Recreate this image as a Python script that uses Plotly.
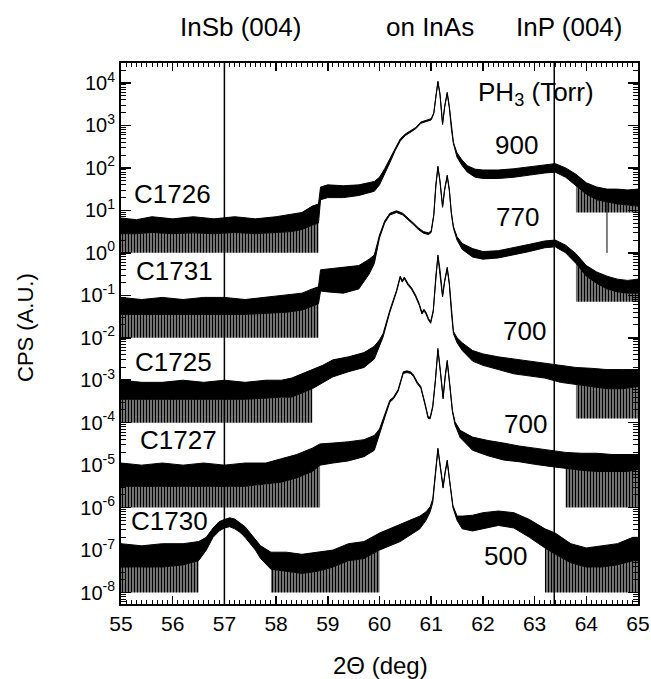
import plotly.graph_objects as go

# ---------------- data (log10 of CPS) ----------------
# each curve: knot positions (2theta), upper and lower envelope of the noisy trace
xA = [55.0, 55.3, 55.6, 56.0, 56.4, 56.8, 57.2, 57.6, 58.0, 58.3, 58.5, 58.7, 58.82, 58.86,
      59.0, 59.3, 59.6, 59.9, 60.0, 60.1, 60.2, 60.3, 60.4, 60.5, 60.6, 60.7, 60.8, 60.9,
      61.0, 61.05, 61.09, 61.13, 61.17, 61.22, 61.26, 61.31, 61.35, 61.39, 61.43, 61.5,
      61.6, 61.7, 61.85, 62.0, 62.3, 62.6, 62.9, 63.2, 63.4, 63.6, 63.8, 64.0, 64.2, 64.4,
      64.6, 64.8, 65.0]
hiA = [0.82, 0.78, 0.85, 0.80, 0.85, 0.80, 0.85, 0.80, 0.85, 0.90, 0.95, 1.10, 1.15, 1.55,
       1.60, 1.58, 1.60, 1.68, 1.78, 1.98, 2.22, 2.47, 2.68, 2.80, 2.87, 2.95, 3.08, 3.12,
       3.16, 3.30, 3.70, 4.04, 3.75, 3.05, 3.45, 3.78, 3.45, 2.95, 2.60, 2.35,
       2.18, 2.05, 1.97, 1.95, 1.95, 1.98, 2.03, 2.08, 2.10, 2.00, 1.85, 1.65, 1.55, 1.50,
       1.50, 1.48, 1.50]
loA = [0.45, 0.45, 0.48, 0.45, 0.47, 0.45, 0.48, 0.45, 0.48, 0.50, 0.55, 0.65, 0.70, 1.25,
       1.30, 1.30, 1.35, 1.45, 1.60, 1.85, 2.12, 2.40, 2.63, 2.76, 2.83, 2.92, 3.05, 3.09,
       3.13, 3.27, 3.67, 4.01, 3.72, 3.02, 3.42, 3.75, 3.42, 2.92, 2.57, 2.25,
       2.05, 1.90, 1.78, 1.75, 1.75, 1.78, 1.83, 1.88, 1.90, 1.78, 1.58, 1.38, 1.25, 1.20,
       1.15, 1.12, 1.10]

xB = [55.0, 55.4, 55.8, 56.2, 56.6, 57.0, 57.4, 57.8, 58.2, 58.5, 58.7, 58.82, 58.86, 59.0,
      59.3, 59.6, 59.8, 59.9, 60.0, 60.1, 60.2, 60.33, 60.45, 60.55, 60.65, 60.75, 60.85,
      60.95, 61.0, 61.05, 61.09, 61.13, 61.17, 61.22, 61.26, 61.31, 61.35, 61.39, 61.43,
      61.5, 61.6, 61.8, 62.0, 62.3, 62.6, 62.9, 63.2, 63.4, 63.6, 63.8, 64.0, 64.2, 64.4,
      64.6, 64.8, 65.0]
hiB = [-1.05, -1.10, -1.05, -1.10, -1.05, -1.05, -1.10, -1.05, -1.00, -0.95, -0.85, -0.80,
       -0.40, -0.38, -0.35, -0.30, -0.15, -0.05, 0.42, 0.75, 0.93, 0.99, 0.93, 0.83, 0.71,
       0.59, 0.50, 0.47, 0.52, 0.90, 1.60, 2.04, 1.70, 1.10, 1.50, 1.83, 1.50, 0.95, 0.62,
       0.38, 0.22, 0.10, 0.03, 0.05, 0.12, 0.20, 0.28, 0.30, 0.18, -0.02, -0.30, -0.45,
       -0.55, -0.62, -0.65, -0.62]
loB = [-1.45, -1.45, -1.45, -1.45, -1.45, -1.45, -1.45, -1.42, -1.40, -1.35, -1.25, -1.20,
       -0.90, -0.92, -0.95, -0.85, -0.50, -0.25, 0.35, 0.70, 0.89, 0.95, 0.89, 0.79, 0.67,
       0.55, 0.46, 0.43, 0.48, 0.87, 1.57, 2.01, 1.67, 1.07, 1.47, 1.80, 1.47, 0.92, 0.58,
       0.30, 0.08, -0.10, -0.15, -0.12, -0.05, 0.03, 0.12, 0.14, 0.00, -0.25, -0.55, -0.72,
       -0.85, -0.92, -0.95, -0.95]

xC = [55.0, 55.4, 55.8, 56.2, 56.6, 57.0, 57.4, 57.8, 58.1, 58.3, 58.5, 58.7, 58.9, 59.1,
      59.4, 59.7, 59.9, 60.0, 60.07, 60.2, 60.33, 60.4, 60.44, 60.48, 60.55, 60.62, 60.7,
      60.77, 60.82, 60.86, 60.9, 60.95, 60.99, 61.04, 61.09, 61.13, 61.17, 61.22, 61.26,
      61.31, 61.35, 61.39, 61.43, 61.5, 61.6, 61.8, 62.0, 62.3, 62.6, 62.9, 63.2, 63.5,
      63.8, 64.1, 64.4, 64.7, 65.0]
hiC = [-3.00, -3.05, -3.05, -3.00, -3.05, -3.00, -3.05, -3.00, -3.00, -2.95, -2.85, -2.75,
       -2.65, -2.52, -2.45, -2.35, -2.20, -2.05, -1.90, -1.35, -0.88, -0.55, -0.65, -0.57,
       -0.72, -0.82, -1.00, -1.20, -1.40, -1.33, -1.40, -1.55, -1.62, -1.35, -0.50, -0.05,
       -0.40, -1.00, -0.65, -0.34, -0.70, -1.35, -1.85, -2.00, -2.12, -2.30, -2.38, -2.45,
       -2.50, -2.55, -2.60, -2.65, -2.70, -2.72, -2.75, -2.75, -2.75]
loC = [-3.45, -3.45, -3.45, -3.45, -3.45, -3.45, -3.45, -3.42, -3.40, -3.40, -3.30, -3.20,
       -3.05, -2.92, -2.80, -2.70, -2.50, -2.20, -1.98, -1.40, -0.92, -0.59, -0.69, -0.61,
       -0.76, -0.86, -1.04, -1.24, -1.44, -1.37, -1.44, -1.59, -1.66, -1.39, -0.54, -0.09,
       -0.44, -1.04, -0.69, -0.38, -0.74, -1.39, -1.90, -2.12, -2.30, -2.55, -2.65, -2.75,
       -2.85, -2.90, -2.95, -3.05, -3.10, -3.15, -3.20, -3.20, -3.15]

xD = [55.0, 55.4, 55.8, 56.2, 56.6, 57.0, 57.4, 57.8, 58.1, 58.4, 58.7, 58.85, 59.1, 59.4,
      59.7, 59.9, 60.0, 60.11, 60.2, 60.27, 60.36, 60.46, 60.53, 60.6, 60.66, 60.73, 60.8,
      60.88, 60.94, 60.98, 61.03, 61.08, 61.13, 61.18, 61.23, 61.27, 61.31, 61.36, 61.41,
      61.46, 61.56, 61.8, 62.1, 62.4, 62.7, 63.0, 63.3, 63.6, 63.9, 64.2, 64.5, 64.8, 65.0]
hiD = [-4.95, -5.00, -4.95, -5.00, -4.95, -5.00, -4.95, -4.95, -4.85, -4.75, -4.60, -4.50,
       -4.48, -4.45, -4.40, -4.30, -4.15, -3.78, -3.47, -3.40, -3.22, -2.80, -2.78, -2.80,
       -2.88, -3.04, -3.15, -3.54, -3.86, -3.87, -3.60, -3.00, -2.25, -2.80, -3.40, -2.90,
       -2.53, -3.10, -3.70, -3.98, -4.18, -4.34, -4.42, -4.48, -4.55, -4.60, -4.65, -4.70,
       -4.72, -4.72, -4.75, -4.75, -4.75]
loD = [-5.50, -5.50, -5.50, -5.50, -5.50, -5.50, -5.50, -5.45, -5.40, -5.30, -5.15, -5.00,
       -4.95, -4.90, -4.80, -4.65, -4.30, -3.85, -3.52, -3.44, -3.26, -2.84, -2.82, -2.84,
       -2.92, -3.08, -3.19, -3.58, -3.90, -3.91, -3.64, -3.04, -2.29, -2.84, -3.44, -2.94,
       -2.57, -3.14, -3.74, -4.05, -4.35, -4.65, -4.78, -4.88, -4.92, -4.98, -5.03, -5.08,
       -5.12, -5.15, -5.15, -5.15, -5.10]

xE = [55.0, 55.4, 55.8, 56.2, 56.5, 56.65, 56.78, 56.9, 57.0, 57.1, 57.2, 57.3, 57.4, 57.5,
      57.6, 57.7, 57.9, 58.2, 58.5, 58.8, 59.1, 59.4, 59.7, 60.0, 60.2, 60.4, 60.6, 60.78,
      60.9, 60.98, 61.03, 61.08, 61.13, 61.18, 61.23, 61.27, 61.31, 61.36, 61.42, 61.5,
      61.6, 61.8, 62.0, 62.3, 62.6, 62.9, 63.2, 63.4, 63.7, 64.0, 64.3, 64.6, 64.9, 65.0]
hiE = [-6.85, -6.90, -6.85, -6.85, -6.80, -6.70, -6.48, -6.33, -6.28, -6.24, -6.27, -6.35,
       -6.45, -6.60, -6.75, -6.90, -7.05, -7.05, -7.10, -7.05, -7.00, -6.85, -6.80, -6.60,
       -6.50, -6.40, -6.30, -6.20, -6.10, -5.98, -5.80, -5.20, -4.60, -5.05, -5.50, -5.15,
       -4.88, -5.40, -5.95, -6.20, -6.20, -6.18, -6.12, -6.08, -6.12, -6.28, -6.50, -6.60,
       -6.85, -6.95, -6.90, -6.85, -6.70, -6.70]
loE = [-7.40, -7.40, -7.40, -7.35, -7.25, -7.00, -6.70, -6.55, -6.48, -6.45, -6.50, -6.58,
       -6.70, -6.85, -7.00, -7.20, -7.45, -7.50, -7.55, -7.50, -7.40, -7.25, -7.20, -7.00,
       -6.90, -6.80, -6.65, -6.50, -6.30, -6.10, -5.88, -5.25, -4.64, -5.09, -5.54, -5.19,
       -4.92, -5.44, -6.00, -6.30, -6.50, -6.55, -6.50, -6.42, -6.48, -6.70, -6.95, -7.10,
       -7.30, -7.40, -7.40, -7.35, -7.25, -7.25]

# ranges where the noise spikes reach down to a floor value (start, end, floor log10)
floorA = [(55.0, 58.82, 0.0), (63.8, 65.0, 0.95)]
floorB = [(55.0, 58.82, -2.0), (63.8, 65.0, -1.15)]
floorC = [(55.0, 58.7, -4.0), (63.8, 65.0, -3.9)]
floorD = [(55.0, 58.85, -6.0), (63.6, 65.0, -6.0)]
floorE = [(55.0, 56.5, -8.0), (57.9, 60.0, -8.0), (63.2, 65.0, -8.0)]

# isolated long spikes (position, lowest log10 value)
spikesA = [(64.4, 0.0)]

sample_labels = ["C1726", "C1731", "C1725", "C1727", "C1730"]
pressure_labels = ["900", "770", "700", "700", "500"]
ref_lines = [57.0, 63.38]            # InSb (004), InP (004)
y_exponents = list(range(-8, 5))

curves = [(xA, hiA, loA, floorA), (xB, hiB, loB, floorB), (xC, hiC, loC, floorC),
          (xD, hiD, loD, floorD), (xE, hiE, loE, floorE)]

for xs, hs, ls, _ in curves:
    assert len(xs) == len(hs) == len(ls), (len(xs), len(hs), len(ls))

# ---------------- figure ----------------
fig = go.Figure()

for xs, hs, ls, floors in curves:
    # noisy floor (striped region where counts drop to the floor)
    for x0, x1, fl in floors:
        sel = [(x, l) for x, l in zip(xs, ls) if x0 <= x <= x1]
        px = [p[0] for p in sel]
        py = [10 ** p[1] for p in sel]
        fig.add_trace(go.Scatter(
            x=px + px[::-1], y=py + [10 ** fl] * len(px),
            fill="toself", fillcolor="white", mode="lines",
            fillpattern=dict(shape="|", fgcolor="black", bgcolor="white",
                             size=3, solidity=0.7, fillmode="replace"),
            line=dict(width=0), hoverinfo="skip", showlegend=False))
    # main trace envelope
    fig.add_trace(go.Scatter(
        x=xs + xs[::-1], y=[10 ** v for v in hs] + [10 ** v for v in ls[::-1]],
        fill="toself", fillcolor="black", mode="lines",
        line=dict(color="black", width=1), hoverinfo="skip", showlegend=False))

for xs_, lo_ in spikesA:
    fig.add_trace(go.Scatter(x=[xs_, xs_], y=[10 ** 1.25, 10 ** lo_], mode="lines",
                             line=dict(color="black", width=1), showlegend=False))

for xv in ref_lines:
    fig.add_shape(type="line", xref="x", yref="paper", x0=xv, x1=xv, y0=0, y1=1,
                  line=dict(color="black", width=1.5))

FONT = "Liberation Sans, Arial, sans-serif"

W, H = 651, 679
PL, PR, PT, PB = 121, 638, 63, 604      # plot area in page pixels


def pxx(px):
    return (px - PL) / float(PR - PL)


def pyy(py):
    return (PB - py) / float(PB - PT)


ann = []
for txt, cx in [("InSb (004)", 240), ("on InAs", 430), ("InP (004)", 569)]:
    ann.append(dict(text=txt, x=pxx(cx), y=pyy(27), xref="paper", yref="paper",
                    xanchor="center", yanchor="middle", showarrow=False,
                    font=dict(size=26, color="black", family=FONT)))
ann.append(dict(text="PH<sub>3</sub> (Torr)", x=pxx(476), y=pyy(93), xref="paper",
                yref="paper", xanchor="left", yanchor="middle", showarrow=False,
                font=dict(size=26, color="black", family=FONT)))
for txt, (cx, cy) in zip(pressure_labels, [(516, 145), (517, 217), (524, 331), (525, 424), (505, 556)]):
    ann.append(dict(text=txt, x=pxx(cx), y=pyy(cy), xref="paper", yref="paper",
                    xanchor="center", yanchor="middle", showarrow=False,
                    font=dict(size=26, color="black", family=FONT)))
for txt, (cx, cy) in zip(sample_labels, [(172, 194), (174, 271), (173, 362), (178, 440), (169, 521)]):
    ann.append(dict(text=txt, x=pxx(cx), y=pyy(cy), xref="paper", yref="paper",
                    xanchor="center", yanchor="middle", showarrow=False,
                    font=dict(size=26, color="black", family=FONT)))
# axis titles
ann.append(dict(text="2Θ (deg)", x=pxx(380), y=pyy(665), xref="paper", yref="paper",
                xanchor="center", yanchor="middle", showarrow=False,
                font=dict(size=24, color="black", family=FONT)))
ann.append(dict(text="CPS (A.U.)", x=pxx(25), y=pyy(328), xref="paper", yref="paper",
                xanchor="center", yanchor="middle", showarrow=False, textangle=-90,
                font=dict(size=22, color="black", family=FONT)))

fig.update_layout(
    width=W, height=H,
    margin=dict(l=PL, r=W - PR, t=PT, b=H - PB, autoexpand=False),
    paper_bgcolor="white", plot_bgcolor="white",
    font=dict(family=FONT, color="black"),
    annotations=ann,
    showlegend=False,
    xaxis=dict(
        range=[55, 65], tickmode="linear", tick0=55, dtick=1,
        ticks="inside", ticklen=8, tickwidth=1.5, tickcolor="black",
        minor=dict(ticks="inside", ticklen=4, dtick=0.1, tickcolor="black", tickwidth=1),
        showline=True, linewidth=2, linecolor="black", mirror="allticks",
        showgrid=False, zeroline=False, automargin=False,
        tickfont=dict(size=21, family=FONT, color="black"),
    ),
    yaxis=dict(
        type="log", range=[-8.27, 4.47], tickmode="array",
        tickvals=[10.0 ** e for e in y_exponents],
        ticktext=["10<sup>%d</sup>" % e for e in y_exponents],
        ticks="inside", ticklen=10, tickwidth=1.5, tickcolor="black",
        minor=dict(ticks="inside", ticklen=5, dtick="D1", tickcolor="black", tickwidth=1),
        showline=True, linewidth=2, linecolor="black", mirror="allticks",
        showgrid=False, zeroline=False, automargin=False,
        tickfont=dict(size=20, family=FONT, color="black"),
    ),
)

# remove the default 8 px page margin so the figure fills the window exactly
fig.write_html("out.html",
               config={"displayModeBar": False, "staticPlot": True},
               post_script="document.body.style.margin='0px';"
                           "document.documentElement.style.overflow='hidden';")
